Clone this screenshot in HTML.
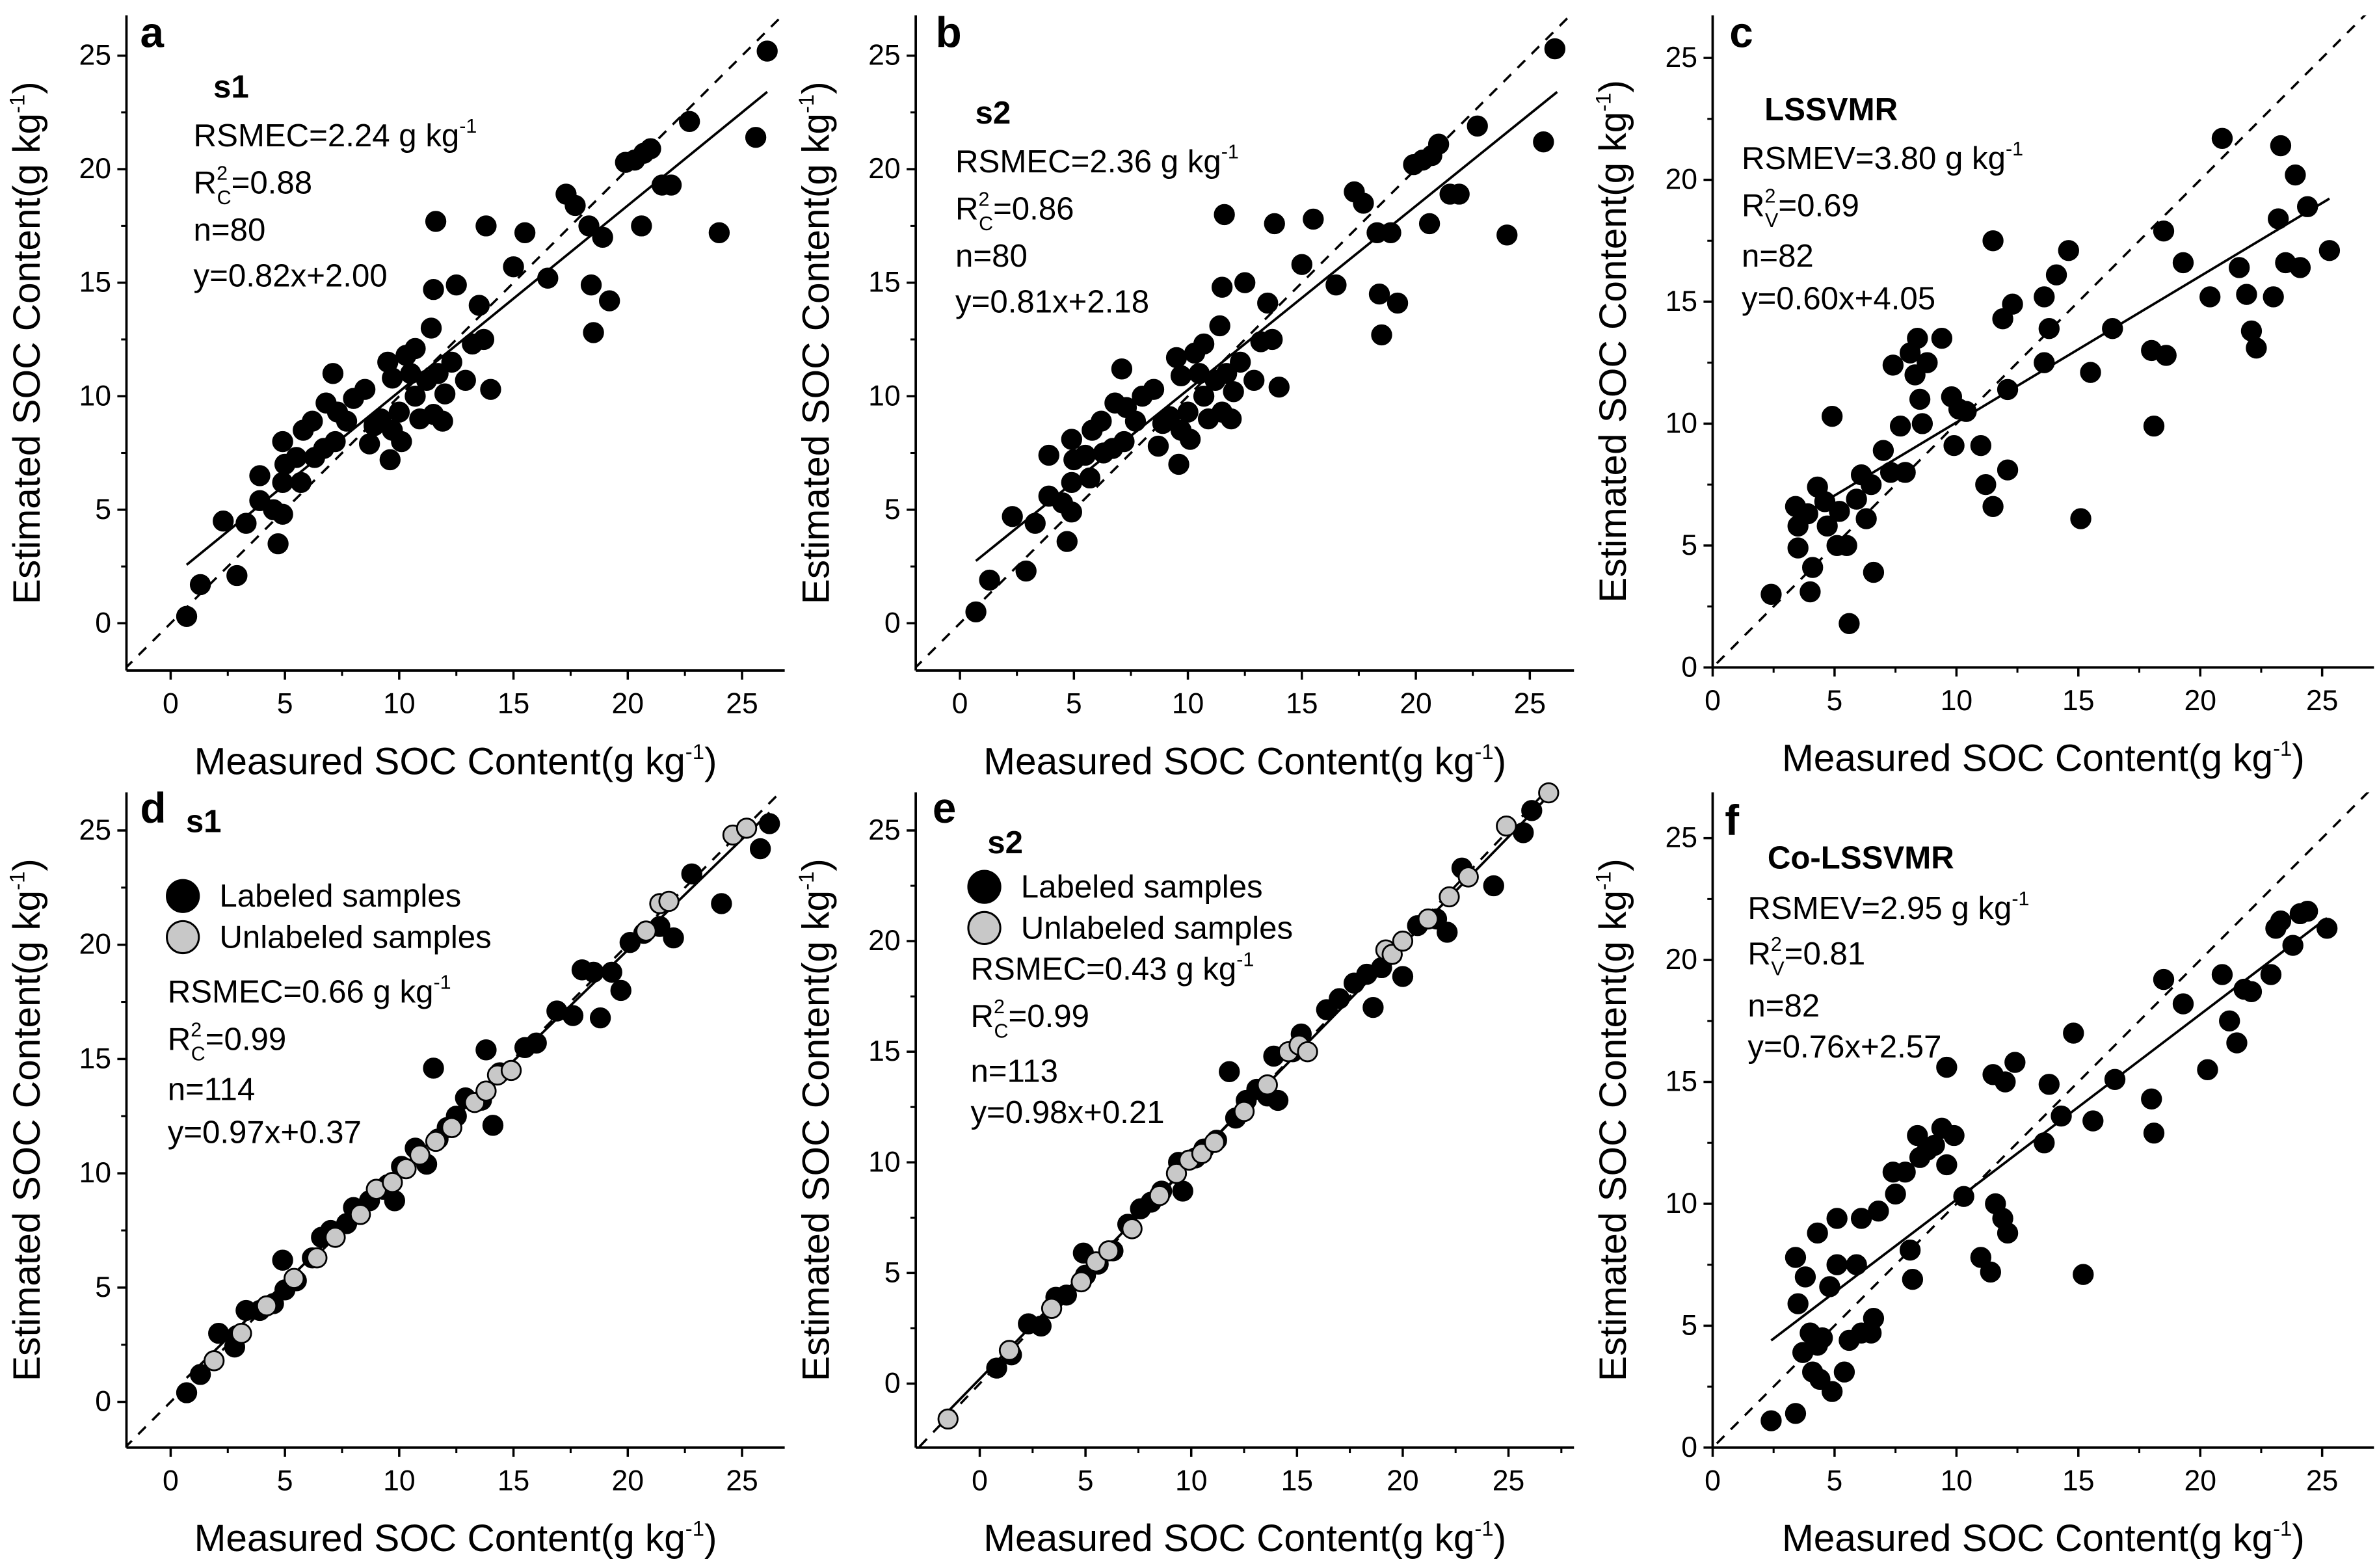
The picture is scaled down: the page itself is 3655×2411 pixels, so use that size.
<!DOCTYPE html>
<html><head><meta charset="utf-8">
<style>
html,body{margin:0;padding:0;background:#fff;}
svg{display:block;font-family:"Liberation Sans",Arial,sans-serif;}
</style></head>
<body>
<svg id="fig" width="3655" height="2411" viewBox="0 0 1560 1029" xmlns="http://www.w3.org/2000/svg">
<rect width="1560" height="1029" fill="#fff"/>
</svg>
<script>
// ---------- data ----------
const xTicks = [0,5,10,15,20,25];
const yTicks = [0,5,10,15,20,25];
const aX=[0.7,1.3,2.3,2.9,3.3,3.9,3.9,4.5,4.7,4.9,4.9,4.9,5,5.5,5.7,5.8,6.2,6.3,6.7,6.8,7.1,7.2,7.3,7.7,8,8.5,8.7,8.9,9.2,9.5,9.6,9.7,9.7,10,10.1,10.3,10.5,10.7,10.7,10.9,11.2,11.4,11.5,11.5,11.6,11.7,11.9,12,12.3,12.5,12.9,13.2,13.5,13.7,13.8,14,15,15.5,16.5,17.3,17.7,18.3,18.4,18.5,18.9,19.2,19.9,20.3,20.6,20.7,21,21.5,21.9,22.7,24,25.6,26.1];
const aY=[0.3,1.7,4.5,2.1,4.4,6.5,5.4,5.0,3.5,4.8,6.2,8.0,7,7.3,6.2,8.5,8.9,7.3,7.7,9.7,11.0,8.0,9.3,8.9,9.9,10.3,7.9,8.7,9.0,11.5,7.2,8.5,10.8,9.3,8.0,11.8,11,10,12.1,9.0,10.7,13.0,14.7,9.2,17.7,11,8.9,10.1,11.5,14.9,10.7,12.3,14,12.5,17.5,10.3,15.7,17.2,15.2,18.9,18.4,17.5,14.9,12.8,17,14.2,20.3,20.4,17.5,20.7,20.9,19.3,19.3,22.1,17.2,21.4,25.2];
const bX=[0.7,1.3,2.3,2.9,3.3,3.9,3.9,4.5,4.7,4.9,4.9,4.9,5,5.5,5.7,5.8,6.2,6.3,6.7,6.8,7.1,7.2,7.3,7.7,8,8.5,8.7,8.9,9.2,9.5,9.6,9.7,9.7,10,10.1,10.3,10.5,10.7,10.7,10.9,11.2,11.4,11.5,11.5,11.6,11.7,11.9,12,12.3,12.5,12.9,13.2,13.5,13.7,13.8,14,15,15.5,16.5,17.3,17.7,18.3,18.4,18.5,18.9,19.2,19.9,20.3,20.6,20.7,21,21.5,21.9,22.7,24,25.6,26.1];
const bY=[0.5,1.9,4.7,2.3,4.4,7.4,5.6,5.3,3.6,4.9,6.2,8.1,7.2,7.4,6.4,8.5,8.9,7.5,7.7,9.7,11.2,8.0,9.5,8.9,10.0,10.3,7.8,8.8,9.1,11.7,7.0,8.5,10.9,9.3,8.1,11.9,11,10,12.3,9.0,10.7,13.1,14.8,9.3,18.0,11,9.0,10.2,11.5,15.0,10.7,12.4,14.1,12.5,17.6,10.4,15.8,17.8,14.9,19.0,18.5,17.2,14.5,12.7,17.2,14.1,20.2,20.4,17.6,20.6,21.1,18.9,18.9,21.9,17.1,21.2,25.3];
const cX=[2.4,3.4,3.5,3.5,3.9,4,4.3,4.1,4.6,4.7,4.9,5.1,5.2,5.5,5.6,5.9,6.1,6.3,6.5,6.6,7,7.3,7.4,7.7,7.9,8.1,8.3,8.4,8.5,8.6,8.8,9.4,9.8,9.9,10.1,10.4,11,11.2,11.5,11.5,11.9,12.1,12.3,12.1,13.6,13.6,13.8,14.1,14.6,15.1,15.5,16.4,18,18.1,18.5,18.6,19.3,20.4,20.9,21.6,21.9,22.1,22.3,23,23.2,23.3,23.5,23.9,24.1,24.4,25.3];
const cY=[3,6.6,5.8,4.9,6.3,3.1,7.4,4.1,6.8,5.8,10.3,5,6.4,5,1.8,6.9,7.9,6.1,7.5,3.9,8.9,8,12.4,9.9,8,12.9,12,13.5,11,10,12.5,13.5,11.1,9.1,10.6,10.5,9.1,7.5,6.6,17.5,14.3,11.4,14.9,8.1,12.5,15.2,13.9,16.1,17.1,6.1,12.1,13.9,13,9.9,17.9,12.8,16.6,15.2,21.7,16.4,15.3,13.8,13.1,15.2,18.4,21.4,16.6,20.2,16.4,18.9,17.1];
const dLabX=[0.7,1.3,2.1,2.8,2.9,3.3,3.9,4.5,4.9,5,5.5,6.2,6.6,7,7.7,8,8.7,9.3,9.5,9.8,10.1,10.7,11.2,11.5,11.7,12.1,12.5,12.9,13.6,13.8,14.1,14.4,15.5,16.0,16.9,17.6,18.0,18.5,18.8,19.3,19.7,20.1,20.7,21.4,22.0,22.8,24.1,25.8,26.2];
const dLabY=[0.4,1.2,3.0,2.4,2.9,4.0,4.0,4.3,6.2,4.9,5.3,6.3,7.2,7.5,7.8,8.5,8.8,9.3,9.5,8.8,10.3,11.1,10.4,14.6,11.5,12.0,12.5,13.3,13.2,15.4,12.1,14.4,15.5,15.7,17.1,16.9,18.9,18.8,16.8,18.8,18.0,20.1,20.5,20.8,20.3,23.1,21.8,24.2,25.3];
const dUnX=[1.9,3.1,4.2,5.4,6.4,7.2,8.3,9.0,9.7,10.3,10.9,11.6,12.3,13.3,13.8,14.3,14.9,20.8,21.4,21.8,24.6,25.2];
const dUnY=[1.8,3.0,4.2,5.4,6.3,7.2,8.2,9.3,9.6,10.2,10.8,11.4,12.0,13.1,13.6,14.3,14.5,20.6,21.8,21.9,24.8,25.1];
const eLabX=[0.8,1.5,2.3,2.9,3.6,4.1,4.9,5.0,5.6,6.3,7.0,7.6,8.1,8.6,9.4,9.6,10.2,10.6,11.2,11.8,12.1,12.6,13.1,13.6,13.9,14.1,14.8,15.2,16.4,17.0,17.7,18.3,18.6,19.0,19.5,20.0,20.7,21.6,22.1,22.8,24.3,25.7,26.1];
const eLabY=[0.7,1.3,2.7,2.6,3.9,4.0,5.9,4.9,5.4,6.0,7.2,7.9,8.2,8.7,10.0,8.7,10.2,10.6,11.0,14.1,12.0,12.8,13.3,13.0,14.8,12.8,15.0,15.8,16.9,17.4,18.1,18.5,17.0,18.8,19.4,18.4,20.7,21.0,20.4,23.3,22.5,24.9,25.9];
const eUnX=[-1.5,1.4,3.4,4.8,5.5,6.1,7.2,8.5,9.3,9.9,10.5,11.1,12.5,13.6,14.6,15.1,15.5,19.2,19.5,20.0,21.2,22.2,23.1,24.9,26.9];
const eUnY=[-1.6,1.5,3.4,4.6,5.5,6.0,7.0,8.5,9.5,10.1,10.4,10.9,12.3,13.5,15.0,15.3,15.0,19.6,19.4,20.0,21.0,22.0,22.9,25.2,26.7];
const fX=[2.4,3.4,3.4,3.5,3.8,3.7,4,4.1,4.3,4.4,4.5,4.3,4.8,4.9,5.1,5.1,5.4,5.6,5.9,6.1,6.1,6.5,6.6,6.8,7.4,7.5,7.9,8.1,8.2,8.4,8.5,8.8,9.1,9.4,9.6,9.6,9.9,10.3,11,11.4,11.5,11.6,11.9,12,12.1,12.4,13.6,13.8,14.3,14.8,15.2,15.6,16.5,18,18.1,18.5,19.3,20.3,20.9,21.2,21.5,21.8,22.1,22.9,23.1,23.3,23.8,24.1,24.4,25.2];
const fY=[1.1,1.4,7.8,5.9,7,3.9,4.7,3.1,4.2,2.8,4.5,8.8,6.6,2.3,7.5,9.4,3.1,4.4,7.5,9.4,4.7,4.7,5.3,9.7,11.3,10.4,11.3,8.1,6.9,12.8,11.9,12.2,12.4,13.1,15.6,11.6,12.8,10.3,7.8,7.2,15.3,10,9.4,15,8.8,15.8,12.5,14.9,13.6,17,7.1,13.4,15.1,14.3,12.9,19.2,18.2,15.5,19.4,17.5,16.6,18.8,18.7,19.4,21.3,21.6,20.6,21.9,22,21.3];
const fits={a:[0.82,2.00,0.7,26.1],b:[0.81,2.18,0.7,26.2],c:[0.60,4.05,3.3,25.3],d:[0.97,0.37,0.7,26.2],e:[0.98,0.21,-1.5,27],f:[0.76,2.57,2.4,25.2]};

// ---------- layout ----------
const P={
 a:{L:83,B:440,x0:112,xs:15,y0:409,ys:14.9,R:515,T:10,xt:xTicks,yt:yTicks},
 b:{L:601,B:440,x0:630,xs:14.96,y0:409,ys:14.9,R:1033,T:10,xt:xTicks,yt:yTicks},
 c:{L:1124,B:438,x0:1124,xs:16,y0:438,ys:16,R:1558,T:10,xt:xTicks,yt:yTicks},
 d:{L:83,B:950,x0:112,xs:15,y0:920,ys:15,R:515,T:520,xt:xTicks,yt:yTicks},
 e:{L:601,B:950,x0:643,xs:13.88,y0:908,ys:14.52,R:1033,T:520,xt:xTicks,yt:yTicks},
 f:{L:1124,B:950,x0:1124,xs:16,y0:950,ys:16,R:1558,T:520,xt:xTicks,yt:yTicks}
};
const NS="http://www.w3.org/2000/svg";
const svg=document.getElementById('fig');
function mk(tag,attrs,parent){const e=document.createElementNS(NS,tag);for(const k in attrs)e.setAttribute(k,attrs[k]);(parent||svg).appendChild(e);return e;}
function sx(p,v){return p.x0+v*p.xs;}
function sy(p,v){return p.y0-v*p.ys;}

function drawPanel(id){
 const p=P[id];
 const g=mk('g',{});
 
 
 const cp=mk('clipPath',{id:'clip-'+id},g);
 mk('rect',{x:p.L,y:p.T,width:p.R-p.L,height:p.B-p.T},cp);
 const dlo=(p.L-p.x0)/p.xs-5, dhi=(p.R-p.x0)/p.xs+5;
 const dl=mk('line',{x1:sx(p,dlo),y1:sy(p,dlo),x2:sx(p,dhi),y2:sy(p,dhi),stroke:'#000','stroke-width':1.5,'stroke-dasharray':'7,6','clip-path':'url(#clip-'+id+')'},g);
 
 
 const xa=mk('line',{x1:p.L,y1:p.B,x2:p.R,y2:p.B,stroke:'#000','stroke-width':1.6},g);
 
 
 const ya=mk('line',{x1:p.L,y1:p.B,x2:p.L,y2:p.T,stroke:'#000','stroke-width':1.6},g);
 
 
 p.xt.forEach(t=>{
  const X=sx(p,t);
  mk('line',{x1:X,y1:p.B,x2:X,y2:p.B+6,stroke:'#000','stroke-width':1.5},g);
  const m=sx(p,t+2.5); if(m<p.R) mk('line',{x1:m,y1:p.B,x2:m,y2:p.B+3.5,stroke:'#000','stroke-width':1.3},g);
  const tx=mk('text',{x:X,y:p.B+28,'font-size':19,'text-anchor':'middle'},g);tx.textContent=t;
  
  
 });
 p.yt.forEach(t=>{
  const Y=sy(p,t);
  mk('line',{x1:p.L,y1:Y,x2:p.L-6,y2:Y,stroke:'#000','stroke-width':1.5},g);
  const m=sy(p,t+2.5); if(m>p.T) mk('line',{x1:p.L,y1:m,x2:p.L-3.5,y2:m,stroke:'#000','stroke-width':1.3},g);
  const tx=mk('text',{x:p.L-10,y:Y+6,'font-size':19,'text-anchor':'end'},g);tx.textContent=t;
  
  
 });
 const xt=mk('text',{x:(p.L+p.R)/2,y:p.B+68,'font-size':25,'text-anchor':'middle'},g);
 xt.innerHTML='Measured SOC Content(g kg<tspan dy="-10" font-size="14">-1</tspan><tspan dy="10">)</tspan>';
 
 
 const yx=p.L-57, yy=(p.T+p.B)/2;
 const yt=mk('text',{x:yx,y:yy,'font-size':25,'text-anchor':'middle',transform:`rotate(-90 ${yx} ${yy})`},g);
 yt.innerHTML='Estimated SOC Content(g kg<tspan dy="-10" font-size="14">-1</tspan><tspan dy="10">)</tspan>';
 
 
 const f=fits[id];
 const fl=mk('line',{x1:sx(p,f[2]),y1:sy(p,f[0]*f[2]+f[1]),x2:sx(p,f[3]),y2:sy(p,f[0]*f[3]+f[1]),stroke:'#000','stroke-width':1.6},g);
 
 
 return g;
}
function pts(id,xs,ys,fill,name){
 const p=P[id];
 const g=mk('g',{});
 xs.forEach((x,i)=>{
  const c=mk('circle',{cx:sx(p,x),cy:sy(p,ys[i]),r:6.3,fill:fill,stroke:'#000','stroke-width':1.2},g);
  
  
 });
}
function txt(x,y,html,size,bold,name){
 const t=mk('text',{x:x,y:y,'font-size':size,'font-weight':bold?'bold':'normal'});
 t.innerHTML=html;
 
 
}
['a','b','c','d','e','f'].forEach(drawPanel);
pts('a',aX,aY,'#000','sample-point');
pts('b',bX,bY,'#000','sample-point');
pts('c',cX,cY,'#000','sample-point');
pts('d',dLabX,dLabY,'#000','labeled-point');
pts('d',dUnX,dUnY,'#c8c8c8','unlabeled-point');
pts('e',eLabX,eLabY,'#000','labeled-point');
pts('e',eUnX,eUnY,'#c8c8c8','unlabeled-point');
pts('f',fX,fY,'#000','sample-point');

const FS=21;
const sup=s=>`<tspan dy="-9" font-size="13">${s}</tspan><tspan dy="9"></tspan>`;
const r2=s=>`R<tspan dy="-9" font-size="13">2</tspan><tspan dy="16" dx="-7" font-size="13">${s}</tspan><tspan dy="-7">`;
txt(92,31,'a',28,true,'panel-label-a');
txt(140,64,'s1',21,true,'model-label');
txt(127,96,'RSMEC=2.24 g kg'+sup('-1'),FS,false,'rmse-text');
txt(127,127,r2('C')+'=0.88</tspan>',FS,false,'r2-text');
txt(127,158,'n=80',FS,false,'n-text');
txt(127,188,'y=0.82x+2.00',FS,false,'equation-text');
txt(614,31,'b',28,true,'panel-label-b');
txt(640,81,'s2',21,true,'model-label');
txt(627,113,'RSMEC=2.36 g kg'+sup('-1'),FS,false,'rmse-text');
txt(627,144,r2('C')+'=0.86</tspan>',FS,false,'r2-text');
txt(627,175,'n=80',FS,false,'n-text');
txt(627,205,'y=0.81x+2.18',FS,false,'equation-text');
txt(1135,31,'c',28,true,'panel-label-c');
txt(1158,79,'LSSVMR',21,true,'model-label');
txt(1143,111,'RSMEV=3.80 g kg'+sup('-1'),FS,false,'rmse-text');
txt(1143,142,r2('V')+'=0.69</tspan>',FS,false,'r2-text');
txt(1143,175,'n=82',FS,false,'n-text');
txt(1143,203,'y=0.60x+4.05',FS,false,'equation-text');
txt(92,540,'d',28,true,'panel-label-d');
txt(122,546,'s1',21,true,'model-label');
function legend(x,y,fill,label){
 const c=mk('circle',{cx:x,cy:y,r:10.5,fill:fill,stroke:'#000','stroke-width':1.3});
 
 
 txt(x+24,y+7,label,FS,false,'legend-entry');
}
legend(120,588,'#000','Labeled samples');
legend(120,615,'#c8c8c8','Unlabeled samples');
txt(110,658,'RSMEC=0.66 g kg'+sup('-1'),FS,false,'rmse-text');
txt(110,689,r2('C')+'=0.99</tspan>',FS,false,'r2-text');
txt(110,722,'n=114',FS,false,'n-text');
txt(110,750,'y=0.97x+0.37',FS,false,'equation-text');
txt(612,540,'e',28,true,'panel-label-e');
txt(648,560,'s2',21,true,'model-label');
legend(646,582,'#000','Labeled samples');
legend(646,609,'#c8c8c8','Unlabeled samples');
txt(637,643,'RSMEC=0.43 g kg'+sup('-1'),FS,false,'rmse-text');
txt(637,674,r2('C')+'=0.99</tspan>',FS,false,'r2-text');
txt(637,710,'n=113',FS,false,'n-text');
txt(637,737,'y=0.98x+0.21',FS,false,'equation-text');
txt(1132,548,'f',28,true,'panel-label-f');
txt(1160,570,'Co-LSSVMR',21,true,'model-label');
txt(1147,603,'RSMEV=2.95 g kg'+sup('-1'),FS,false,'rmse-text');
txt(1147,633,r2('V')+'=0.81</tspan>',FS,false,'r2-text');
txt(1147,667,'n=82',FS,false,'n-text');
txt(1147,694,'y=0.76x+2.57',FS,false,'equation-text');
</script>
</body></html>
